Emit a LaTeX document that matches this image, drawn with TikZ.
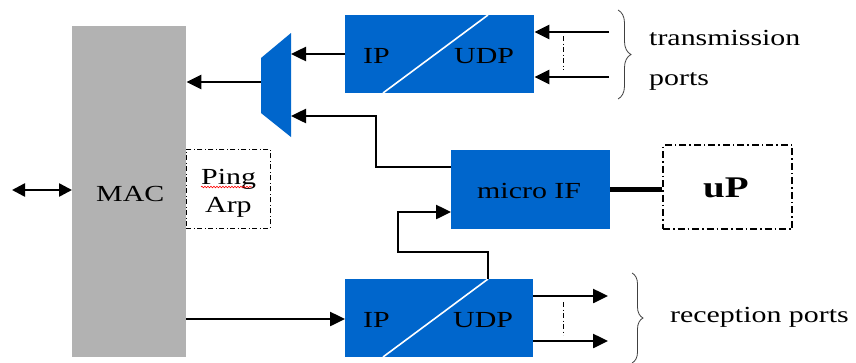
\documentclass[tikz,border=0pt]{standalone}
\usepackage{fontspec}
\setmainfont{Liberation Serif}[FakeStretch=1.3]
\usetikzlibrary{arrows.meta,decorations.pathreplacing,decorations.pathmorphing}
\definecolor{blk}{HTML}{0066CC}
\definecolor{macgray}{HTML}{B2B2B2}
\begin{document}
\begin{tikzpicture}[x=1pt,y=-1pt,
  box/.style={fill=blk, draw=none, inner sep=0pt, anchor=north west},
  lbl/.style={inner sep=0pt, anchor=base west, font=\fontsize{23}{28}\selectfont},
  arr/.style={line width=2.5pt, -{Triangle[length=15pt,width=14pt]}},
  darr/.style={line width=2.5pt, {Triangle[length=13pt,width=13pt]}-{Triangle[length=13pt,width=13pt]}},
  dashdot/.style={dash pattern=on 5pt off 2.5pt on 1pt off 2.5pt},
  brc/.style={draw=black!75, line width=0.8pt, decorate},
  slash/.style={draw=white, line width=1.6pt}]
\useasboundingbox (0,0) rectangle (856,362);

% MAC
\node[box, fill=macgray, minimum width=114pt, minimum height=331pt] (mac) at (72,26) {};
\node[lbl] (mactxt) at (96,201) {MAC};

% Ping / Arp
\node[box, fill=none, draw=black, line width=0.8pt, dashdot, minimum width=84pt, minimum height=79pt] (ping) at (186,149) {};
\node[lbl] (pingtxt) at (201,184) {Ping};
\node[lbl] (arptxt) at (205,212) {Arp};
\draw[red, line width=0.6pt, decorate, decoration={snake, amplitude=0.8pt, segment length=3pt}] (201,187) -- (252,187);

% transmit IP/UDP
\node[box, minimum width=189pt, minimum height=78pt] (tx) at (345,15) {};
\draw[slash] (383,93) -- (488,15);
\node[lbl] (txip) at (363,63) {IP};
\node[lbl] (txudp) at (454,63) {UDP};

% receive IP/UDP
\node[box, minimum width=188pt, minimum height=78pt] (rx) at (345,279) {};
\draw[slash] (383,357) -- (488,279);
\node[lbl] (rxip) at (363,327) {IP};
\node[lbl] (rxudp) at (453,327) {UDP};

% micro IF
\node[box, minimum width=159pt, minimum height=79pt] (micro) at (451,150) {};
\node[lbl] (microtxt) at (477,198) {micro IF};

% uP
\node[box, fill=none, draw=black, line width=2pt, dash pattern=on 7pt off 3pt on 1.5pt off 3pt, minimum width=129pt, minimum height=84pt] (up) at (662,144) {};
\node[lbl, font=\fontsize{30}{34}\selectfont\bfseries] (uptxt) at (703,197) {uP};

% mux
\coordinate (muxR1) at (291,54);
\coordinate (muxR2) at (291,116);
\coordinate (muxL) at (261,82);
\fill[blk] (291,33) -- (291,137) -- (261,113) -- (261,58) -- cycle;

% connectors
\coordinate (ext) at (12,190);
\draw[darr] (ext) -- (mac.west |- ext);
\draw[arr] (tx.west |- muxR1) -- (muxR1);
\draw[arr] (muxL) -- (mac.east |- muxL);
\draw[arr] (micro.west |- 0,167) -- (376,167) -- (376,116) -- (muxR2);
\draw[arr] (rx.north -| 488,0) -- (488,252) -- (398,252) -- (398,212) -- (micro.west |- 0,212);
\draw[arr] (mac.east |- 0,319) -- (rx.west |- 0,319);
\draw[line width=5pt] (micro.east |- 0,189) -- (up.west |- 0,189);

% transmission ports
\coordinate (in1) at (609,32);
\coordinate (in2) at (609,77);
\draw[arr] (in1) -- (tx.east |- in1);
\draw[arr] (in2) -- (tx.east |- in2);
\draw[line width=0.8pt, dashdot] (563,36) -- (563,70);
\draw[brc, decoration={brace, amplitude=13pt}] (618,10) -- (618,99);
\node[lbl] (trtxt) at (649,45) {transmission};
\node[lbl] (prtxt) at (649,85) {ports};

% reception ports
\coordinate (out1) at (608,296);
\coordinate (out2) at (608,341);
\draw[arr] (rx.east |- out1) -- (out1);
\draw[arr] (rx.east |- out2) -- (out2);
\draw[line width=0.8pt, dashdot] (563,302) -- (563,335);
\draw[brc, decoration={brace, amplitude=11pt}] (632,273) -- (632,363);
\node[lbl] (rctxt) at (670,322) {reception ports};
\end{tikzpicture}
\end{document}
